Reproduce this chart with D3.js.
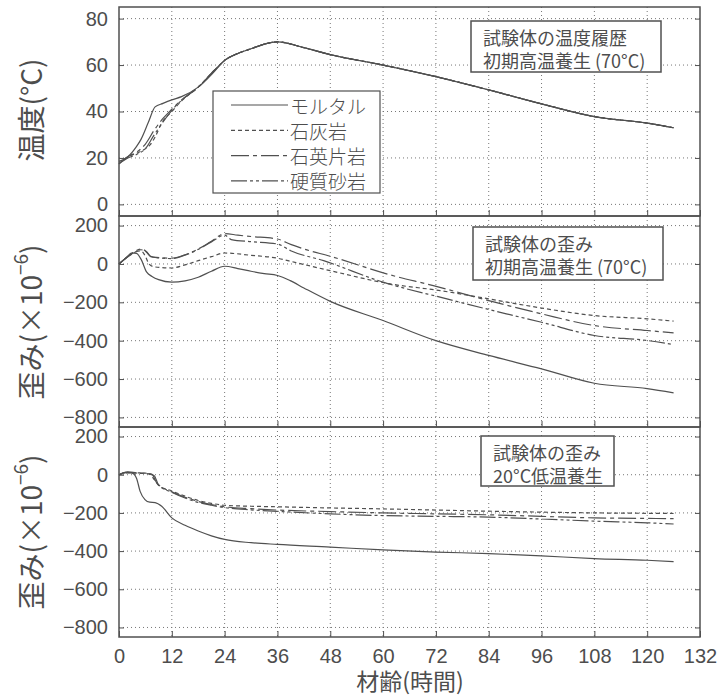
<!DOCTYPE html>
<html>
<head>
<meta charset="utf-8">
<script src="https://cdn.jsdelivr.net/npm/d3@7"></script>
<style>
  body { margin: 0; background: #fff; }
  svg text { fill: #4d4d4d; }
</style>
</head>
<body>
<div id="container"></div>
<script>
// tick labels
var hourTicks = [0, 12, 24, 36, 48, 60, 72, 84, 96, 108, 120, 132];
var tempTicks = [0, 20, 40, 60, 80];
var strainTicks = [200, 0, -200, -400, -600, -800];
var seriesNames = ["モルタル", "石灰岩", "石英片岩", "硬質砂岩"];

// temperature history, [hours, °C]; all four curves coincide after 24h
var tempTail = [[27, 65], [30, 67], [33, 69], [36, 70], [42, 67.5], [48, 64.5], [60, 60], [72, 55],
  [84, 49.3], [96, 43.3], [108, 37.8], [120, 35], [126, 33]];
var tempMortar = [[0, 18.5], [2, 20.5], [4, 25], [5, 28], [6.6, 35], [8.2, 42], [10, 43.5], [12, 45],
  [14.2, 46.4], [18, 50.5], [21.8, 57.5], [24, 62]];
var tempLime = [[0, 17.5], [2, 20.5], [4, 22], [6, 24], [7, 25.5], [8.2, 29], [9.7, 35], [12, 40],
  [14.2, 44.5], [18, 50.5], [21.8, 58], [24, 62]];
var tempQuartz = [[0, 17.5], [2, 20.5], [4, 22.5], [6, 26], [8, 32], [10, 37], [12, 41],
  [14.2, 45], [18, 50.5], [21.8, 58], [24, 62]];
var tempSand = [[0, 17.5], [2, 20], [4, 21.5], [6, 24], [8, 30], [10, 35.5], [12, 40.5],
  [14.2, 44.8], [18, 50.5], [21.8, 58], [24, 62]];

// strain, early high-temperature curing (70°C), [hours, ×10^-6]
var hotMortar = [[0, 0], [1.5, 30], [3, 58], [4, 55], [5, 25], [6.3, -43], [7.5, -65], [9, -82], [12, -95],
  [15, -88], [18, -69], [21, -38], [24, -12], [27, -24], [30, -38], [33, -50], [36, -60], [38.9, -87],
  [42, -125], [48, -195], [60, -295], [72, -400], [84, -477], [96, -547], [108, -622], [120, -650], [126, -672]];
var hotLime = [[0, 0], [1.5, 30], [3, 55], [5, 68], [6, 40], [6.8, 0], [8, -15], [12, -21], [15, -5],
  [18, 17], [21, 38], [24, 57], [30, 45], [36, 30], [40, 8], [48, -35], [61.6, -104], [73, -139],
  [84, -182], [96, -230], [108, -269], [120, -286], [126, -298]];
var hotQuartz = [[0, 0], [1.5, 30], [3, 55], [5, 78], [6.2, 65], [7.2, 40], [8.5, 34], [12, 30], [15, 48],
  [18, 78], [21, 118], [24, 158], [27, 150], [30, 143], [36, 130], [39, 102], [42, 78], [48, 40],
  [61.6, -57], [71.4, -113], [84, -191], [96, -260], [108, -321], [120, -347], [126, -359]];
var hotSand = [[0, 0], [1.5, 28], [3, 52], [5, 74], [6.2, 62], [7.2, 38], [8.5, 33], [12, 28], [15, 46],
  [18, 76], [21, 115], [24, 150], [25.5, 127], [30, 116], [36, 104], [39, 69], [46.5, 17], [60, -95],
  [74.5, -182], [88, -260], [96, -304], [108, -373], [120, -399], [126, -420]];

// strain, 20°C low-temperature curing
var coolMortar = [[0, 0], [1.5, 12], [3, 8], [4, -20], [4.8, -87], [5.9, -130], [7, -144], [8.2, -146],
  [9.7, -165], [12, -226], [15, -265], [18, -295], [21, -320], [24, -339], [30, -356], [36, -365],
  [48, -379], [60, -394], [72, -405], [84, -413], [96, -425], [108, -439], [120, -448], [126, -455]];
var coolLime = [[0, 0], [2, 10], [4, 8], [6, 6], [7, 2], [8, -25], [9, -55], [12, -85], [15, -112],
  [18, -135], [21, -150], [24, -160], [30, -165], [36, -168], [48, -174], [60, -179], [72, -185],
  [84, -191], [96, -196], [108, -200], [120, -202], [126, -203]];
var coolQuartz = [[0, 0], [2, 15], [4, 10], [6, 8], [7.5, 2], [8.5, -40], [9.5, -62], [12, -90], [15, -118],
  [18, -140], [21, -156], [24, -168], [30, -178], [36, -185], [48, -193], [60, -200], [72, -205],
  [84, -210], [96, -218], [108, -226], [120, -229], [126, -230]];
var coolSand = [[0, 0], [2, 12], [4, 10], [6, 8], [8, -5], [9, -55], [12, -92], [15, -122], [18, -145],
  [21, -160], [24, -172], [30, -184], [36, -192], [48, -205], [60, -214], [72, -218], [84, -222],
  [96, -232], [108, -243], [120, -252], [126, -258]];

// Setup figure
var svg = d3.select("div#container")
  .append("svg")
  .attr("width", 724)
  .attr("height", 697);

var ink = "#505050";
var dashes = [null, "4,3", "18,4,4,4", "16,3,3,3,3,3"];
var left = 119, right = 700;

var x = d3.scaleLinear().domain([0, 132]).range([left, right]);

var panels = [
  {y: d3.scaleLinear().domain([-5, 85]).range([216, 7]), ticks: tempTicks,
   series: [tempMortar.concat(tempTail), tempLime.concat(tempTail), tempQuartz.concat(tempTail), tempSand.concat(tempTail)],
   note: ["試験体の温度履歴", "初期高温養生 (70°C)"], box: [471, 21, 190, 51]},
  {y: d3.scaleLinear().domain([-850, 250]).range([427, 216]), ticks: strainTicks,
   series: [hotMortar, hotLime, hotQuartz, hotSand],
   note: ["試験体の歪み", "初期高温養生 (70°C)"], box: [473, 227, 190, 53]},
  {y: d3.scaleLinear().domain([-850, 250]).range([637, 427]), ticks: strainTicks,
   series: [coolMortar, coolLime, coolQuartz, coolSand],
   note: ["試験体の歪み", "20°C低温養生"], box: [481, 436, 133, 50]}
];

panels.forEach(function(p, i) {
  var y = p.y;
  var g = svg.append("g");
  var top = y.range()[1], bottom = y.range()[0];

  // dotted grid
  g.selectAll(".hgrid").data(p.ticks).enter().append("line")
    .attr("x1", left).attr("x2", right)
    .attr("y1", function(d) { return y(d); }).attr("y2", function(d) { return y(d); })
    .attr("stroke", "#777").attr("stroke-width", 1).attr("stroke-dasharray", "1,3");
  g.selectAll(".vgrid").data(hourTicks.slice(1, -1)).enter().append("line")
    .attr("x1", function(d) { return x(d); }).attr("x2", function(d) { return x(d); })
    .attr("y1", top).attr("y2", bottom)
    .attr("stroke", "#777").attr("stroke-width", 1).attr("stroke-dasharray", "1,3");

  // axes with inward ticks
  var yAxis = g.append("g")
    .attr("transform", "translate(" + left + ",0)")
    .call(d3.axisLeft(y).tickValues(p.ticks).tickSizeInner(-5).tickSizeOuter(0).tickPadding(11));
  yAxis.select(".domain").remove();
  yAxis.selectAll("line").attr("stroke", ink);
  yAxis.selectAll("text")
    .attr("font-family", "'Liberation Sans', Arial, sans-serif")
    .attr("font-size", 20)
    .attr("fill", "#4d4d4d");

  g.append("g")
    .attr("transform", "translate(" + right + ",0)")
    .call(d3.axisRight(y).tickValues(p.ticks).tickSizeInner(-5).tickSizeOuter(0).tickFormat(""))
    .call(function(a) { a.select(".domain").remove(); a.selectAll("line").attr("stroke", ink); });

  var xAxis = g.append("g")
    .attr("transform", "translate(0," + bottom + ")")
    .call(d3.axisBottom(x).tickValues(hourTicks).tickSizeInner(-6).tickSizeOuter(0).tickPadding(12)
      .tickFormat(i === 2 ? d3.format("d") : ""));
  xAxis.select(".domain").remove();
  xAxis.selectAll("line").attr("stroke", ink);
  xAxis.selectAll("text")
    .attr("font-family", "'Liberation Sans', Arial, sans-serif")
    .attr("font-size", 20)
    .attr("fill", "#4d4d4d");

  // curves
  var line = d3.line()
    .x(function(d) { return x(d[0]); })
    .y(function(d) { return y(d[1]); })
    .curve(d3.curveMonotoneX);

  g.selectAll(".curve").data(p.series).enter().append("path")
    .attr("class", "curve")
    .attr("fill", "none")
    .attr("stroke", ink)
    .attr("stroke-width", 1.2)
    .attr("stroke-dasharray", function(d, k) { return dashes[k]; })
    .attr("d", line);

  // frame
  g.append("rect")
    .attr("x", left).attr("y", top)
    .attr("width", right - left).attr("height", bottom - top)
    .attr("fill", "none").attr("stroke", ink).attr("stroke-width", 1.5);

  // note box
  g.append("rect")
    .attr("x", p.box[0]).attr("y", p.box[1])
    .attr("width", p.box[2]).attr("height", p.box[3])
    .attr("fill", "#fff").attr("stroke", ink).attr("stroke-width", 1.5);
  g.selectAll(".note").data(p.note).enter().append("text")
    .attr("x", p.box[0] + 12)
    .attr("y", function(d, k) { return p.box[1] + 16 + k * 23; })
    .attr("dominant-baseline", "central")
    .attr("font-family", "'Noto Sans CJK JP', sans-serif")
    .attr("font-size", 18)
    .text(function(d) { return d; });
});

// legend in the temperature panel
var legend = svg.append("g");
legend.append("rect")
  .attr("x", 213).attr("y", 91).attr("width", 167).attr("height", 102)
  .attr("fill", "#fff").attr("stroke", ink).attr("stroke-width", 1.2);
var rows = legend.selectAll(".row").data(seriesNames).enter().append("g")
  .attr("transform", function(d, k) { return "translate(0," + (105 + k * 25.3) + ")"; });
rows.append("line")
  .attr("x1", 231).attr("x2", 288)
  .attr("stroke", ink).attr("stroke-width", 1.2)
  .attr("stroke-dasharray", function(d, k) { return dashes[k]; });
rows.append("text")
  .attr("x", 290)
  .attr("dominant-baseline", "central")
  .attr("font-family", "'Noto Sans CJK JP', sans-serif")
  .attr("font-weight", 300)
  .attr("font-size", 19)
  .text(function(d) { return d; });

// axis titles
svg.append("text")
  .attr("transform", "translate(30,110) rotate(-90)")
  .attr("text-anchor", "middle")
  .attr("dominant-baseline", "central")
  .attr("font-family", "'Noto Sans CJK JP', sans-serif")
  .attr("font-size", 28)
  .text("温度(°C)");

[322, 532].forEach(function(cy) {
  var t = svg.append("text")
    .attr("transform", "translate(30," + cy + ") rotate(-90)")
    .attr("text-anchor", "middle")
    .attr("dominant-baseline", "central")
    .attr("font-family", "'Noto Sans CJK JP', sans-serif")
    .attr("font-size", 28);
  t.append("tspan").text("歪み(×10");
  t.append("tspan").attr("dy", -11).attr("font-size", 19).text("−6");
  t.append("tspan").attr("dy", 11).text(")");
});

svg.append("text")
  .attr("x", 410).attr("y", 680)
  .attr("text-anchor", "middle")
  .attr("dominant-baseline", "central")
  .attr("font-family", "'Noto Sans CJK JP', sans-serif")
  .attr("font-size", 23)
  .text("材齢(時間)");
</script>
</body>
</html>
